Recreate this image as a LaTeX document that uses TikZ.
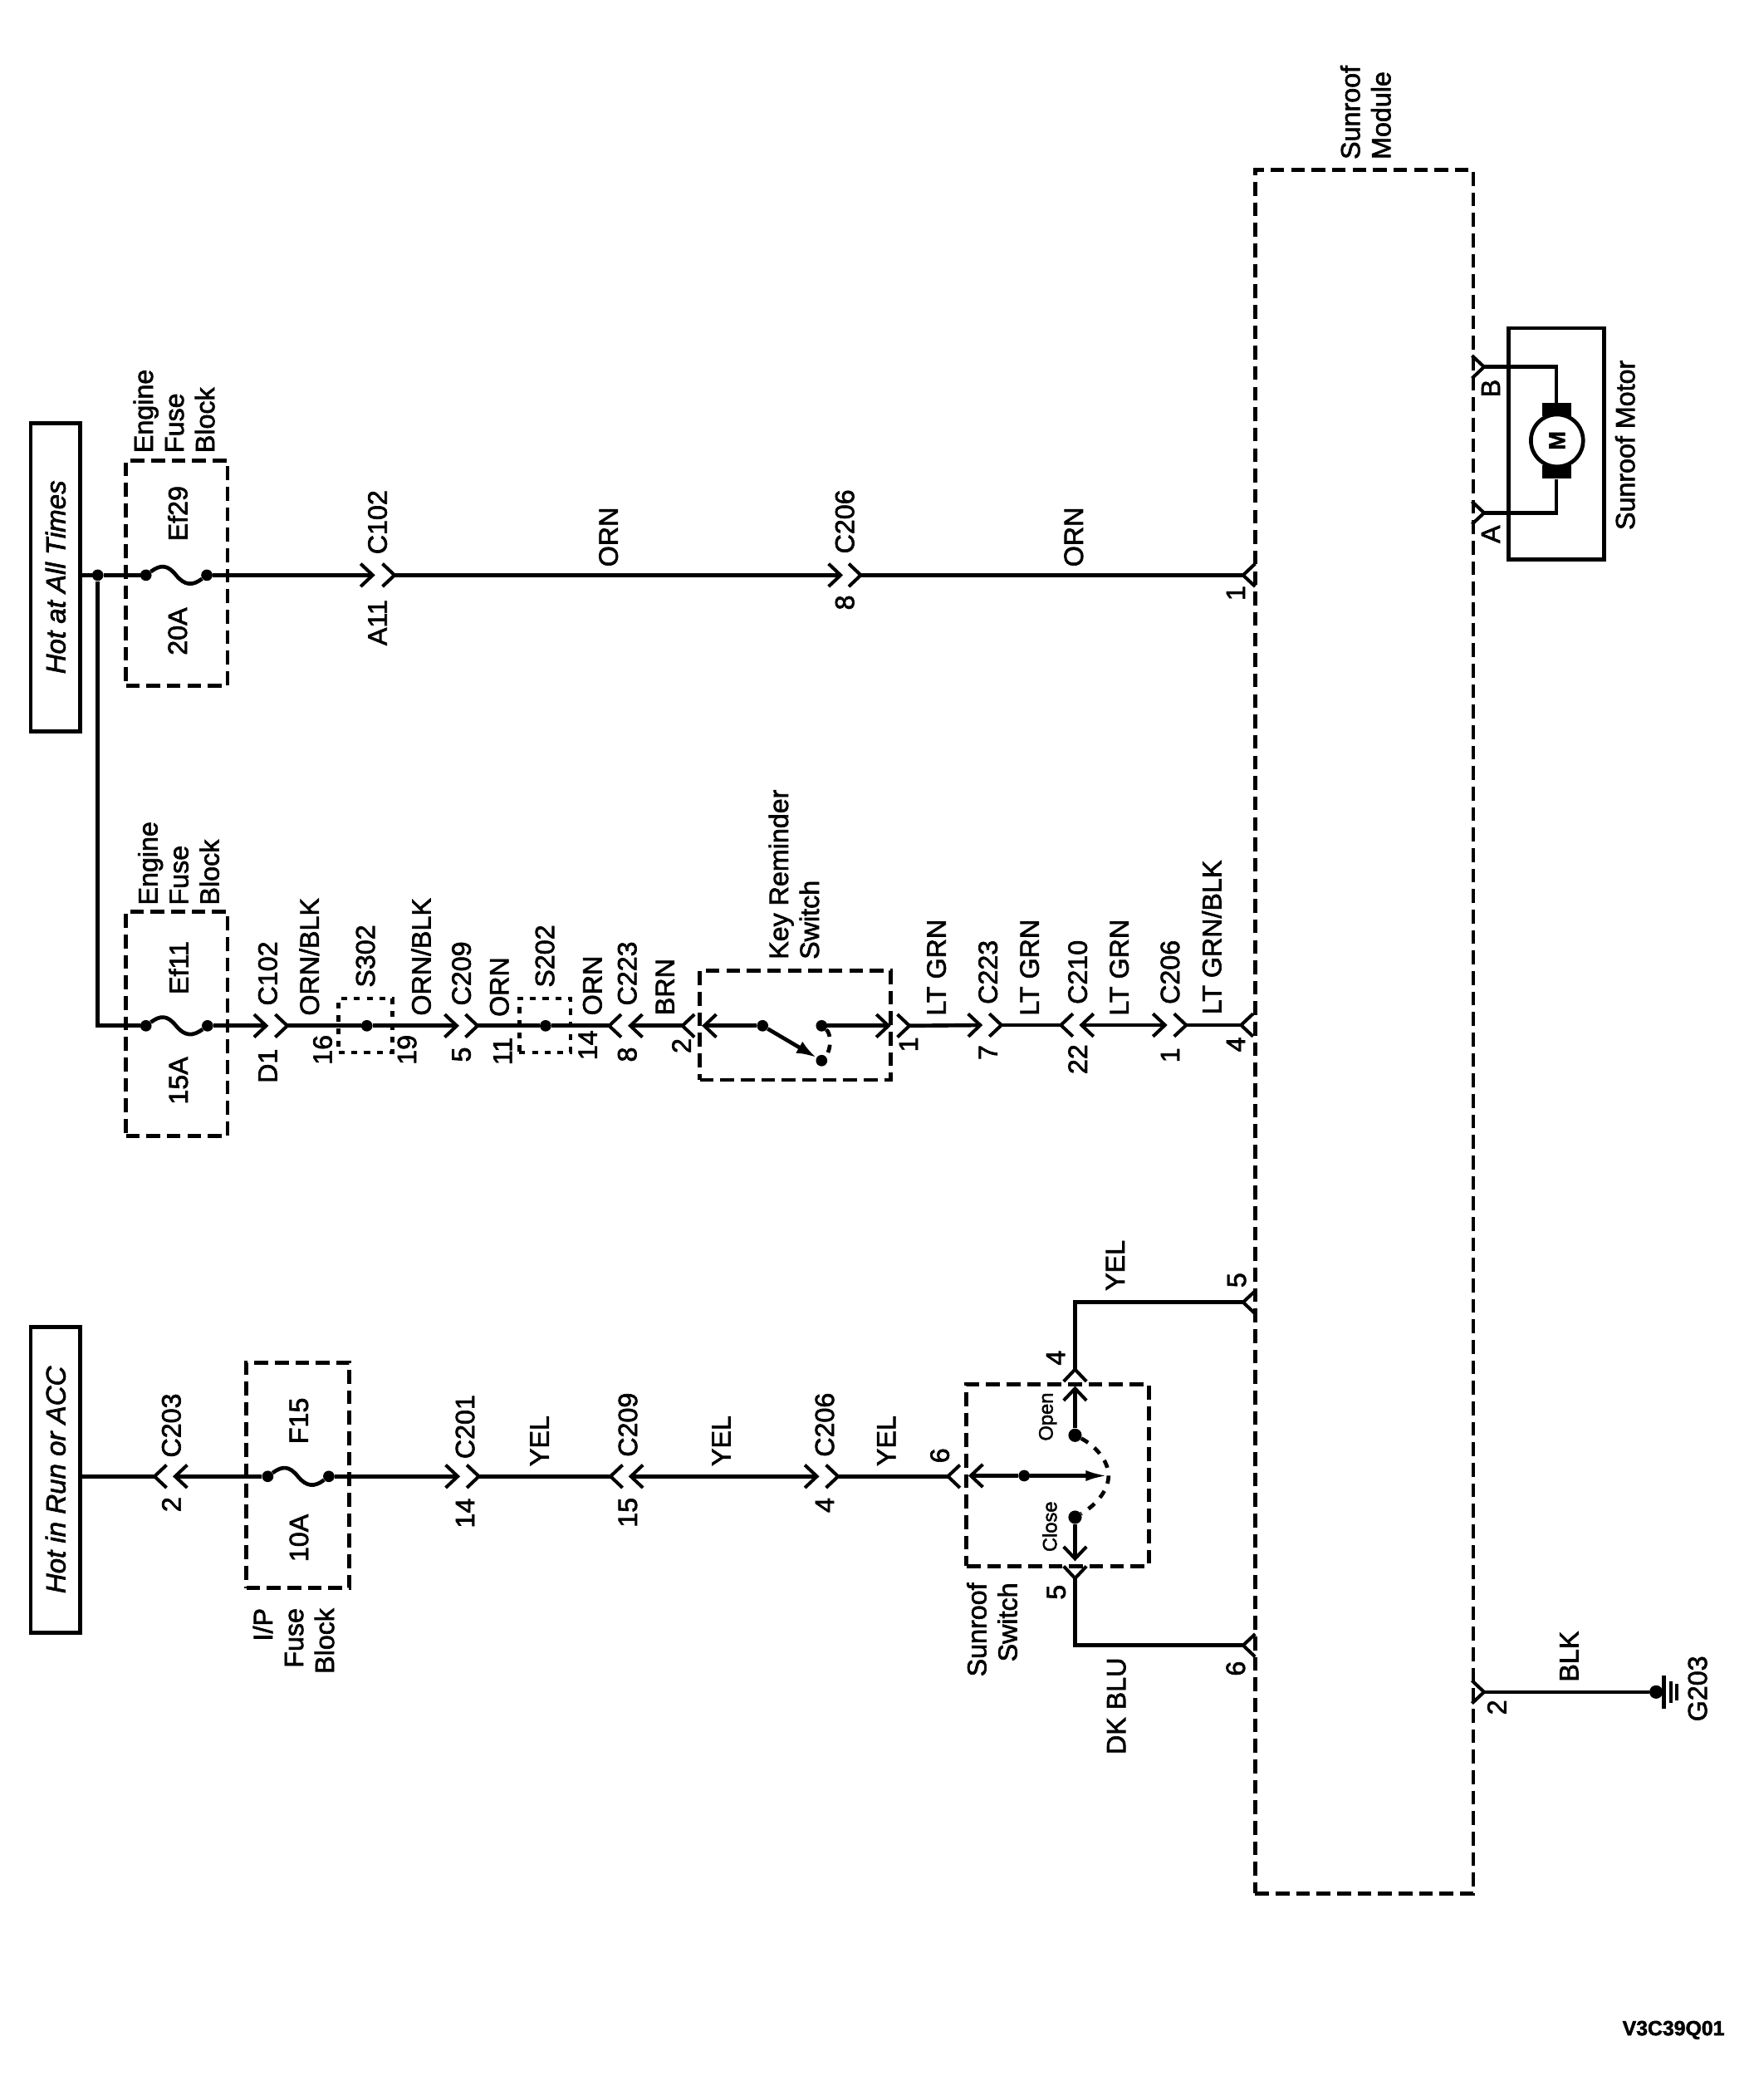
\documentclass[tikz,border=0pt]{standalone}
\usepackage{fontspec}
\setmainfont{Liberation Sans}[FakeBold=2]
\usetikzlibrary{arrows.meta}

\tikzset{
  chevpic/.pic={\draw[line width=2.5,line join=miter] (-9,-8.5) -- (0,0) -- (-9,8.5);}
}
\newcommand\chev[4]{\coordinate(#1) at (#2,#3); \pic[rotate=#4] at (#1) {chevpic};}

\begin{document}
\begin{tikzpicture}[x=1pt,y=-1pt,>={Straight Barb[length=9,width=17,line width=2.5]},
  font=\fontsize{20}{23}\selectfont,
  wire/.style={line width=2.9,line join=miter},
  dashbox/.style={draw,line width=3,dash pattern=on 10.3 off 5},
  splicebox/.style={draw,line width=3,dash pattern=on 4.5 off 5},
  dotline/.style={line width=2.9,dash pattern=on 6 off 6},
  tagbox/.style={draw,line width=3,rotate=90,minimum height=37,font=\fontsize{20.5}{23}\selectfont\itshape},
  lab/.style={rotate=90,inner sep=0},
  stack/.style={rotate=90,inner sep=0,align=left},
  stackr/.style={rotate=90,inner sep=0,align=right},
  tiny/.style={rotate=90,inner sep=0,font=\fontsize{14.7}{16}\selectfont},
  dot/.style={circle,fill,inner sep=0,minimum size=8.5},
  bigdot/.style={circle,fill,inner sep=0,minimum size=10},
  brush/.style={fill,minimum width=21.7,minimum height=10,inner sep=0}]
  \useasboundingbox (0,0) rectangle (1309.6,1568.2);

  % module
  \node(module)[dashbox,minimum width=163,minimum height=1287] at (1019,770.5) {};
  \node(modlab)[stack] at (1020,84) {Sunroof\\Module};

  % hot at all times, first row
  \node(hotall)[tagbox,minimum width=230] at (41.5,431) {Hot at All Times};
  \node(ef29box)[dashbox,minimum width=76,minimum height=168] at (132,428) {};
  \node(ef29lab)[stack] at (130,307) {Engine\\Fuse\\Block};
  \node(ef29)[lab] at (132.7,383.5) {Ef29};
  \node(a20)[lab] at (132.7,471.5) {20A};
  \node(ja)[dot] at (73,429.5) {};
  \node(ef29a)[dot] at (109,429.5) {};
  \node(ef29b)[dot] at (154.5,429.5) {};
  \draw[wire] (hotall.south |- ja) -- (ja) -- (ef29a);
  \draw[wire] (ef29a) .. controls (120,421.5) and (125,421.5) .. (131.5,429.5) .. controls (138,437.5) and (144,437.5) .. (ef29b);
  \coordinate(t1) at (280.2,429.5);
  \draw[wire,->] (ef29b) -- (t1);
  \chev{c1}{294.7}{429.5}{0}
  \coordinate(t2) at (629.7,429.5);
  \draw[wire,->] (c1) -- (t2);
  \chev{c2}{643}{429.5}{0}
  \chev{m1}{928.5}{429.5}{180}
  \draw[wire] (c2) -- (m1);
  \node(c102a)[lab] at (282,390) {C102};
  \node(a11)[lab] at (282,465) {A11};
  \node(orna)[lab] at (454.5,401) {ORN};
  \node(c206a)[lab] at (631,389.5) {C206};
  \node(n8a)[lab] at (631,450) {8};
  \node(ornb)[lab] at (802,401) {ORN};
  \node(n1a)[lab] at (923,443) {1};

  % second row
  \node(ef11box)[dashbox,minimum width=76,minimum height=167.5] at (132,764.5) {};
  \node(ef11lab)[stack] at (133.4,644.7) {Engine\\Fuse\\Block};
  \node(ef11)[lab] at (133.4,722.7) {Ef11};
  \node(a15)[lab] at (133.4,807) {15A};
  \node(ef11a)[dot] at (109,766) {};
  \node(ef11b)[dot] at (155,766) {};
  \draw[wire] (ja) |- (ef11a);
  \draw[wire] (ef11a) .. controls (120,758) and (125,758) .. (131.5,766) .. controls (138,774) and (144,774) .. (ef11b);
  \coordinate(t3) at (200.6,766);
  \draw[wire,->] (ef11b) -- (t3);
  \chev{c3}{214.6}{766}{0}
  \node(s302box)[splicebox,minimum width=40,minimum height=40.4] at (273,765.8) {};
  \node(s302)[dot] at (274,766) {};
  \coordinate(t4) at (343,766);
  \draw[wire] (c3) -- (s302);
  \draw[wire,->] (s302) -- (t4);
  \chev{c4}{356.7}{766}{0}
  \node(s202box)[splicebox,minimum width=38.3,minimum height=40.4] at (407,765.8) {};
  \node(s202)[dot] at (407.5,766) {};
  \chev{c5}{455}{766}{180}
  \draw[wire] (c4) -- (s202) -- (c5);
  \coordinate(t5) at (469,766);
  \chev{c6}{509.7}{766}{180}
  \draw[wire,<-] (t5) -- (c6);
  \node(keybox)[dashbox,minimum width=142.6,minimum height=81.5] at (594,765.7) {};
  \node(keylab)[stack] at (593,653) {Key Reminder\\Switch};
  \coordinate(t6) at (524.2,766);
  \node(ka)[dot] at (569.6,766) {};
  \node(kb)[dot] at (613.7,766) {};
  \node(kc)[dot] at (613.7,792) {};
  \draw[wire,<-] (t6) -- (ka);
  \draw[wire,-{Latex[length=15,width=10]}] (ka) -- (kc);
  \draw[dotline] (kb) .. controls (621,772) and (621,784) .. (kc);
  \coordinate(t7) at (665.4,766);
  \draw[wire,->] (kb) -- (t7);
  \chev{c7}{679.3}{766}{0}
  \coordinate(t8) at (734,765.5);
  \draw[wire,->] (c7) -- (t8);
  \chev{c8}{748}{765.5}{0}
  \chev{c9}{792.4}{765.5}{180}
  \draw[wire] (c8) -- (c9);
  \coordinate(t9) at (806,765.5);
  \coordinate(t10) at (872,765.5);
  \draw[wire,<->] (t9) -- (t10);
  \chev{c10}{886}{765.5}{0}
  \chev{m4}{927}{765.5}{180}
  \draw[wire] (c10) -- (m4);
  \node(c102b)[lab] at (200,727) {C102};
  \node(d1)[lab] at (200,796) {D1};
  \node(obk1)[lab] at (231,714.5) {ORN/BLK};
  \node(n16)[lab] at (241,784) {16};
  \node(s302l)[lab] at (273,714) {S302};
  \node(n19)[lab] at (304,784) {19};
  \node(obk2)[lab] at (314.5,714.5) {ORN/BLK};
  \node(c209a)[lab] at (344.7,727) {C209};
  \node(n5a)[lab] at (344.7,787.5) {5};
  \node(ornc)[lab] at (373,737) {ORN};
  \node(n11)[lab] at (375.4,785) {11};
  \node(s202l)[lab] at (407,714) {S202};
  \node(n14)[lab] at (439,780.5) {14};
  \node(ornd)[lab] at (442.5,736) {ORN};
  \node(c223a)[lab] at (468.5,727) {C223};
  \node(n8b)[lab] at (468.5,787.5) {8};
  \node(brn)[lab] at (496.7,737) {BRN};
  \node(n2a)[lab] at (509,781) {2};
  \node(n1b)[lab] at (678.6,780) {1};
  \node(lg1)[lab] at (699.5,722.5) {LT GRN};
  \node(c223b)[lab] at (738,726) {C223};
  \node(n7)[lab] at (738,786) {7};
  \node(lg2)[lab] at (769,722.5) {LT GRN};
  \node(c210)[lab] at (805,726) {C210};
  \node(n22)[lab] at (805,791) {22};
  \node(lg3)[lab] at (836,722.5) {LT GRN};
  \node(c206b)[lab] at (874,726) {C206};
  \node(n1c)[lab] at (874,788) {1};
  \node(lgb)[lab] at (905,700) {LT GRN/BLK};
  \node(n4a)[lab] at (923,780) {4};

  % hot in run, third row
  \node(hotrun)[tagbox,minimum width=228] at (41.5,1105) {Hot in Run or ACC};
  \chev{c11}{115.4}{1102.5}{180}
  \draw[wire] (hotrun.south |- c11) -- (c11);
  \node(f15box)[dashbox,minimum width=77,minimum height=168.4] at (222.5,1101.6) {};
  \node(f15lab)[stackr] at (219.3,1225.4) {I/P\\Fuse\\Block};
  \node(f15)[lab] at (223.3,1061) {F15};
  \node(a10)[lab] at (223.3,1148.5) {10A};
  \node(f15a)[dot] at (200,1102.5) {};
  \node(f15b)[dot] at (245.6,1102.5) {};
  \coordinate(t11) at (129,1102.5);
  \draw[wire,<-] (t11) -- (f15a);
  \draw[wire] (f15a) .. controls (211,1094.5) and (216,1094.5) .. (222.5,1102.5) .. controls (229,1110.5) and (235,1110.5) .. (f15b);
  \coordinate(t12) at (343.7,1102.5);
  \draw[wire,->] (f15b) -- (t12);
  \chev{c12}{357.7}{1102.5}{0}
  \chev{c13}{456}{1102.5}{180}
  \draw[wire] (c12) -- (c13);
  \coordinate(t13) at (469.4,1102.5);
  \coordinate(t14) at (612,1102.5);
  \draw[wire,<->] (t13) -- (t14);
  \chev{c14}{626}{1102.5}{0}
  \chev{c15}{708}{1102.5}{180}
  \draw[wire] (c14) -- (c15);
  \node(swbox)[dashbox,minimum width=136,minimum height=135.4] at (790,1101.7) {};
  \node(swlab)[stackr] at (741,1217) {Sunroof\\Switch};
  \coordinate(t15) at (723.3,1102);
  \node(sa)[dot] at (765,1102) {};
  \node(sb)[bigdot] at (803,1071.8) {};
  \node(sc)[bigdot] at (803,1133) {};
  \coordinate(st) at (828,1102);
  \draw[wire,<-] (t15) -- (sa);
  \draw[wire,-{Latex[length=17,width=8]}] (sa) -- (st);
  \draw[dotline] (sb) .. controls (817,1079) and (828,1090) .. (st) .. controls (828,1114) and (817,1125) .. (sc);
  \coordinate(t16) at (803,1035);
  \coordinate(t17) at (803,1165.8);
  \draw[wire,->] (sb) -- (t16);
  \draw[wire,->] (sc) -- (t17);
  \chev{c16}{803}{1022.6}{90}
  \chev{c17}{803}{1178.6}{-90}
  \chev{m5}{928.5}{972.5}{180}
  \chev{m6}{928.5}{1228.7}{180}
  \draw[wire] (c16) |- (m5);
  \draw[wire] (c17) |- (m6);
  \node(c203)[lab] at (128,1064.5) {C203};
  \node(n2b)[lab] at (128,1123.5) {2};
  \node(c201)[lab] at (347.4,1065.5) {C201};
  \node(n14b)[lab] at (347.4,1130) {14};
  \node(yel1)[lab] at (403,1076) {YEL};
  \node(c209b)[lab] at (469,1064) {C209};
  \node(n15)[lab] at (469,1129.5) {15};
  \node(yel2)[lab] at (538.7,1076) {YEL};
  \node(c206c)[lab] at (616,1064) {C206};
  \node(n4b)[lab] at (616,1124) {4};
  \node(yel3)[lab] at (662,1076) {YEL};
  \node(n6a)[lab] at (702,1087) {6};
  \node(open)[tiny] at (782.7,1058) {Open};
  \node(close)[tiny] at (784,1140) {Close};
  \node(n4c)[lab] at (788.5,1014) {4};
  \node(n5b)[lab] at (789,1189) {5};
  \node(yel4)[lab] at (833,945) {YEL};
  \node(dkblu)[lab] at (833.9,1274) {DK BLU};
  \node(n5c)[lab] at (923.8,956) {5};
  \node(n6b)[lab] at (923,1246) {6};

  % motor
  \node(motbox)[draw,line width=3,minimum width=71,minimum height=172.6] at (1162.5,331.3) {};
  \node(motlab)[lab] at (1213.8,332.4) {Sunroof Motor};
  \node(motor)[circle,draw,line width=2.9,inner sep=0,minimum size=39,font=\fontsize{17}{18}\selectfont\bfseries,rotate=90] at (1163,329) {M};
  \node(brb)[brush] at (1162.5,306) {};
  \node(bra)[brush] at (1162.5,352.5) {};
  \chev{pb}{1108.5}{274}{0}
  \chev{pa}{1108.5}{383}{0}
  \draw[wire] (pb) -| (brb);
  \draw[wire] (pa) -| (bra);
  \node(pinb)[lab] at (1113.5,290) {B};
  \node(pina)[lab] at (1113.5,399) {A};

  % ground
  \chev{pg}{1108.5}{1263.5}{0}
  \node(gdot)[bigdot] at (1237,1263.5) {};
  \coordinate(g1a) at (1243,1251);
  \coordinate(g1b) at (1243,1276);
  \coordinate(g2a) at (1248,1255.5);
  \coordinate(g2b) at (1248,1271.5);
  \coordinate(g3a) at (1252.5,1257.5);
  \coordinate(g3b) at (1252.5,1269.5);
  \draw[wire] (pg) -- (gdot);
  \draw[wire] (g1a) -- (g1b);
  \draw[wire] (g2a) -- (g2b);
  \draw[wire] (g3a) -- (g3b);
  \node(blk)[lab] at (1172,1237) {BLK};
  \node(n2c)[lab] at (1118,1275) {2};
  \node(g203)[lab] at (1268,1261) {G203};

  \node(code)[inner sep=0,font=\fontsize{15.4}{18}\selectfont\bfseries] at (1250,1516) {V3C39Q01};
\end{tikzpicture}
\end{document}
